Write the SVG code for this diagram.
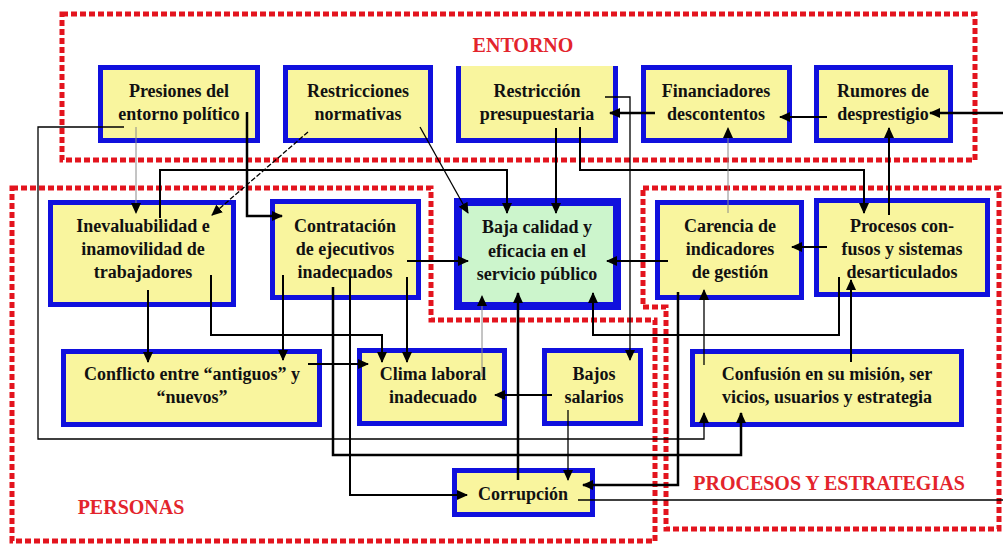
<svg xmlns="http://www.w3.org/2000/svg" width="1003" height="546" viewBox="0 0 1003 546">
<style>
.region{fill:none;stroke:#E3141E;stroke-width:5;stroke-dasharray:6 3}
.rlabel{font-family:"Liberation Serif","Times New Roman",serif;font-weight:bold;font-size:20px;fill:#E3242C;text-anchor:middle}
.box{fill:#F9F59E;stroke:#1010DD;stroke-width:5}
.boxfill{fill:#F9F59E}
.bord{fill:none;stroke:#1010DD;stroke-width:5}
.main{fill:#CCF5CC;stroke:#1010DD;stroke-width:8}
.t{font-family:"Liberation Serif","Times New Roman",serif;font-weight:bold;font-size:18px;fill:#111;text-anchor:middle}
.c{fill:none;stroke:#000;stroke-width:2}
.a{marker-end:url(#ah)}
.k{stroke-width:2.5}
.th{stroke-width:1.3}
.g{stroke:#8a8a8a;stroke-width:1}
.d{stroke-dasharray:5 2}
</style>
<defs>
<marker id="ah" markerUnits="userSpaceOnUse" markerWidth="11" markerHeight="10" refX="10" refY="5" orient="auto">
<path d="M0,0 L11,5 L0,10 z" fill="#000"/>
</marker>
</defs>

<g id="regions">
<rect class="region" x="62" y="14" width="913" height="146"/>
<path class="region" d="M12,188 H431 V320 H655 V541 H12 Z"/>
<path class="region" d="M643,188 H999 V529 H666 V307 H643 Z"/>
<text class="rlabel" x="523" y="52">ENTORNO</text>
<text class="rlabel" x="131" y="514">PERSONAS</text>
<text class="rlabel" x="829" y="490">PROCESOS Y ESTRATEGIAS</text>
</g>

<g id="n-presiones">
<rect class="box" x="100.5" y="67.5" width="157" height="73"/>
<text class="t" x="179" y="97">Presiones del</text>
<text class="t" x="179" y="120">entorno político</text>
</g>
<g id="n-restricciones">
<rect class="box" x="285.5" y="67.5" width="145" height="73"/>
<text class="t" x="358" y="97">Restricciones</text>
<text class="t" x="358" y="120">normativas</text>
</g>
<g id="n-presupuestaria">
<rect class="boxfill" x="456" y="66" width="162" height="77"/>
<path class="bord" d="M458.5,66 V140.5 H615.5 V66"/>
<text class="t" x="537" y="97">Restricción</text>
<text class="t" x="537" y="120">presupuestaria</text>
</g>
<g id="n-financiadores">
<rect class="box" x="643.5" y="67.5" width="146" height="73"/>
<text class="t" x="716" y="97">Financiadores</text>
<text class="t" x="716" y="120">descontentos</text>
</g>
<g id="n-rumores">
<rect class="box" x="816.5" y="67.5" width="134" height="73"/>
<text class="t" x="883" y="97">Rumores de</text>
<text class="t" x="883" y="120">desprestigio</text>
</g>

<g id="n-inevaluabilidad">
<rect class="box" x="50.5" y="202.5" width="183" height="102"/>
<text class="t" x="143" y="232">Inevaluabilidad e</text>
<text class="t" x="143" y="255">inamovilidad de</text>
<text class="t" x="143" y="278">trabajadores</text>
</g>
<g id="n-contratacion">
<rect class="box" x="272.5" y="201.5" width="146" height="96"/>
<text class="t" x="345" y="232">Contratación</text>
<text class="t" x="345" y="255">de ejecutivos</text>
<text class="t" x="345" y="278">inadecuados</text>
</g>
<g id="n-baja">
<rect class="main" x="458" y="202" width="159" height="104"/>
<text class="t" x="537" y="233">Baja calidad y</text>
<text class="t" x="537" y="257">eficacia en el</text>
<text class="t" x="537" y="280">servicio público</text>
</g>
<g id="n-carencia">
<rect class="box" x="657.5" y="202.5" width="144" height="95"/>
<text class="t" x="730" y="232">Carencia de</text>
<text class="t" x="730" y="255">indicadores</text>
<text class="t" x="730" y="278">de gestión</text>
</g>
<g id="n-procesos">
<rect class="box" x="816.5" y="200.5" width="171" height="94"/>
<text class="t" x="902" y="232">Procesos con-</text>
<text class="t" x="902" y="255">fusos y sistemas</text>
<text class="t" x="902" y="278">desarticulados</text>
</g>

<g id="n-conflicto">
<rect class="box" x="63.5" y="351.5" width="256" height="73"/>
<text class="t" x="192" y="380">Conflicto entre “antiguos” y</text>
<text class="t" x="192" y="403">“nuevos”</text>
</g>
<g id="n-clima">
<rect class="box" x="359.5" y="350.5" width="145" height="73"/>
<text class="t" x="433" y="380">Clima laboral</text>
<text class="t" x="433" y="403">inadecuado</text>
</g>
<g id="n-bajos">
<rect class="box" x="544.5" y="350.5" width="96" height="73"/>
<text class="t" x="594" y="380">Bajos</text>
<text class="t" x="594" y="403">salarios</text>
</g>
<g id="n-confusion">
<rect class="box" x="692.5" y="351.5" width="269" height="73"/>
<text class="t" x="827" y="380">Confusión en su misión, ser</text>
<text class="t" x="827" y="403">vicios, usuarios y estrategia</text>
</g>
<g id="n-corrupcion">
<rect class="box" x="454.5" y="470.5" width="138" height="44"/>
<text class="t" x="523" y="500">Corrupción</text>
</g>

<g id="connectors">
<path class="c a k" d="M1003,113 H930"/>
<path class="c a" d="M827,117 H780"/>
<path class="c a k" d="M655,113 H610"/>
<path class="c a th" d="M605,97 H630 V360"/>
<path class="c a" d="M556,128 V213"/>
<path class="c a" d="M580,127 V170 H864 V213"/>
<path class="c a" d="M889,215 V128"/>
<path class="c a g" d="M728,213 V128"/>
<path class="c a" d="M827,247 H792"/>
<path class="c a" d="M668,261 H607"/>
<path class="c a" d="M407,261 H468"/>
<path class="c a th" d="M420,127 L468,213"/>
<path class="c a th d" d="M308,132 L212,215"/>
<path class="c a g" d="M136,127 V213"/>
<path class="c a k" d="M247,112 V216 H282"/>
<path class="c a th" d="M124,127 H38 V439 H704 V413"/>
<path class="c a k" d="M333,287 V455 H741 V413"/>
<path class="c a" d="M350,277 V495 H467"/>
<path class="c a" d="M283,275 V360"/>
<path class="c a" d="M407,277 V362"/>
<path class="c a" d="M148,290 V362"/>
<path class="c a" d="M211,275 V335 H382 V362"/>
<path class="c a" d="M308,364 H368"/>
<path class="c a g" d="M482,377 V296"/>
<path class="c a k" d="M518,480 V293"/>
<path class="c a" d="M552,395 H495"/>
<path class="c a th" d="M568,410 V480"/>
<path class="c a k" d="M678,292 V485 H583"/>
<path class="c th" d="M578,500 H1003"/>
<path class="c a th" d="M704,365 V290"/>
<path class="c a" d="M851,362 V280"/>
<path class="c a" d="M839,277 V335 H593 V293"/>
<path class="c a" d="M160,218 V170 H507 V213"/>
</g>
</svg>
